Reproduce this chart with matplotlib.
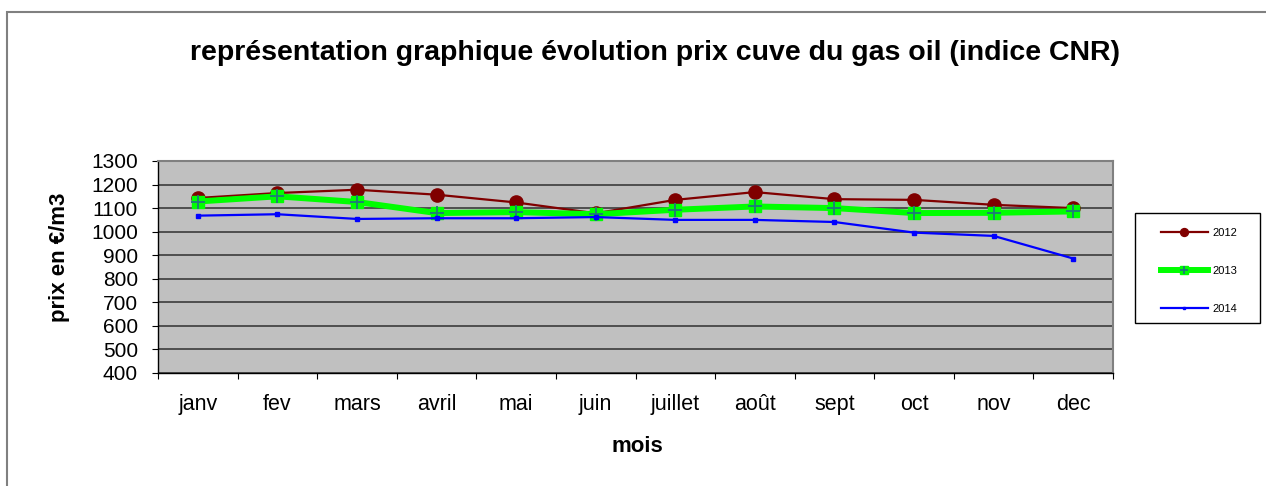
import matplotlib
matplotlib.use("Agg")
import matplotlib.pyplot as plt
from matplotlib.patches import Rectangle

plt.rcParams['font.family'] = ['Liberation Sans', 'DejaVu Sans']

months = ["janv", "fev", "mars", "avril", "mai", "juin", "juillet", "août", "sept", "oct", "nov", "dec"]
prix_2012 = [1143, 1164, 1178, 1157, 1124, 1078, 1135, 1168, 1138, 1135, 1114, 1100]
prix_2013 = [1128, 1150, 1126, 1079, 1083, 1074, 1093, 1107, 1100, 1079, 1080, 1086]
prix_2014 = [1068, 1074, 1054, 1057, 1057, 1062, 1050, 1050, 1041, 996, 982, 886]
yticks = list(range(400, 1301, 100))

W, H = 1266, 486
fig = plt.figure(figsize=(W / 100, H / 100), dpi=100)
fig.patch.set_facecolor("white")

def fx(px):
    return px / W

def fy(py):
    return 1 - py / H

# outer chart border (only top/left visible in the reference)
fig.add_artist(Rectangle((fx(7), -0.1), 1.2, fy(12) + 0.1, transform=fig.transFigure,
                         fill=False, edgecolor="#808080", linewidth=1.5))

ax = fig.add_axes([fx(158), fy(373), (1113 - 158) / W, (373 - 161) / H])
ax.set_facecolor("#C0C0C0")

x = [i + 0.5 for i in range(len(months))]

l12, = ax.plot(x, prix_2012, color="#800000", linewidth=1.6, marker="o", markersize=9.5,
               markerfacecolor="#800000", markeredgecolor="#800000", zorder=3)
l13, = ax.plot(x, prix_2013, color="#00FF00", linewidth=4.3, marker="s", markersize=9,
               markerfacecolor="#00FF00", markeredgecolor="#00FF00", zorder=4)
p13, = ax.plot(x, prix_2013, linestyle="none", marker="+", markersize=10, markeredgewidth=1.3,
               color="#1F7A7A", zorder=5)
l14, = ax.plot(x, prix_2014, color="#0000FF", linewidth=1.6, marker="s", markersize=3.5,
               markerfacecolor="#0000FF", markeredgecolor="#0000FF", zorder=6)

ax.set_xlim(0, 12)
ax.set_ylim(400, 1300)
ax.set_yticks(yticks)
ax.set_yticklabels([str(v) for v in yticks], fontsize=15)
ax.set_xticks(range(13))
ax.set_xticklabels([])
ax.set_xticks(x, minor=True)
ax.set_xticklabels(months, minor=True, fontsize=15.5)
ax.tick_params(axis="x", which="minor", length=0, pad=15)
ax.tick_params(axis="x", which="major", length=4.5, direction="out", color="black")
ax.tick_params(axis="y", length=4.5, direction="out", color="black", pad=10)
ax.yaxis.grid(True, color="#303030", linewidth=1.1)
ax.set_axisbelow(True)
for s in ["top", "right"]:
    ax.spines[s].set_color("#808080")
    ax.spines[s].set_linewidth(1.5)
for s in ["left", "bottom"]:
    ax.spines[s].set_color("black")
    ax.spines[s].set_linewidth(1.0)

fig.text(fx(60), fy(257), "prix en €/m3", rotation=90, ha="center", va="center",
         fontsize=16, fontweight="bold")
fig.text(fx(637), fy(446), "mois", ha="center", va="center", fontsize=16, fontweight="bold")

fig.text(fx(655), fy(53), "représentation graphique évolution prix cuve du gas oil (indice CNR)",
         ha="center", va="center", fontsize=20.5, fontweight="bold")

# legend frame
fig.add_artist(Rectangle((fx(1135), fy(323)), (1260 - 1135) / W, (323 - 213) / H,
                         transform=fig.transFigure, fill=False, edgecolor="black", linewidth=1.0))
leg = fig.legend([l12, (l13, p13), l14], ["2012", "2013", "2014"],
                 loc="upper left", bbox_to_anchor=(fx(1161), fy(228)),
                 fontsize=8, frameon=False, markerscale=0.6,
                 handlelength=4.2, labelspacing=2.5, borderpad=0, handletextpad=0.4,
                 borderaxespad=0)

fig.savefig("out.png", dpi=100, facecolor="white")
